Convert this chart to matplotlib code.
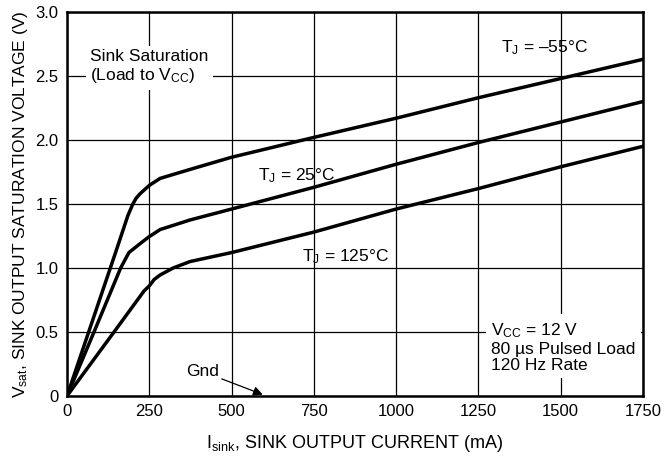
import matplotlib
matplotlib.use('Agg')
import matplotlib.pyplot as plt

plt.rcParams['font.family'] = ['Liberation Sans', 'DejaVu Sans']
plt.rcParams['mathtext.fontset'] = 'custom'
plt.rcParams['mathtext.rm'] = 'Liberation Sans'
plt.rcParams['mathtext.it'] = 'Liberation Sans'

# Sink current (mA) and saturation voltage (V)
i_m55 = [0, 100, 150, 185, 200, 210, 222, 250, 283, 374, 500, 750, 1000, 1250, 1500, 1750]
v_m55 = [0, 0.76, 1.14, 1.41, 1.50, 1.545, 1.58, 1.645, 1.70, 1.77, 1.865, 2.02, 2.17, 2.33, 2.48, 2.63]

i_25 = [0, 82, 163, 188, 205, 222, 250, 283, 374, 500, 750, 1000, 1250, 1500, 1750]
v_25 = [0, 0.50, 1.00, 1.12, 1.155, 1.19, 1.245, 1.30, 1.375, 1.46, 1.63, 1.81, 1.98, 2.14, 2.30]

i_125 = [0, 143, 234, 250, 265, 283, 323, 374, 500, 750, 1000, 1250, 1500, 1750]
v_125 = [0, 0.50, 0.82, 0.86, 0.91, 0.945, 1.00, 1.05, 1.12, 1.28, 1.46, 1.62, 1.79, 1.95]

x_ticks = [0, 250, 500, 750, 1000, 1250, 1500, 1750]
y_ticks = [0, 0.5, 1.0, 1.5, 2.0, 2.5, 3.0]
y_labels = ['0', '0.5', '1.0', '1.5', '2.0', '2.5', '3.0']

fig = plt.figure(figsize=(6.64, 4.63), dpi=100)
ax = fig.add_axes([0.101, 0.145, 0.867, 0.829])

for xs, ys in [(i_m55, v_m55), (i_25, v_25), (i_125, v_125)]:
    ax.plot(xs, ys, color='black', linewidth=2.5, solid_capstyle='round',
            solid_joinstyle='round', zorder=3)

ax.set_xlim(0, 1750)
ax.set_ylim(0, 3.0)
ax.set_xticks(x_ticks)
ax.set_yticks(y_ticks)
ax.set_yticklabels(y_labels)
ax.tick_params(length=0, labelsize=12, pad=6)
ax.grid(True, color='black', linewidth=0.9)
ax.set_axisbelow(True)
for s in ax.spines.values():
    s.set_linewidth(1.8)
    s.set_zorder(4)

ax.set_xlabel('I$_\\mathrm{sink}$, SINK OUTPUT CURRENT (mA)', fontsize=13, labelpad=10)
ax.set_ylabel('V$_\\mathrm{sat}$, SINK OUTPUT SATURATION VOLTAGE (V)', fontsize=12.5, labelpad=4)

box = dict(facecolor='white', edgecolor='none', pad=3)
ax.text(70, 2.57, 'Sink Saturation\n(Load to V$_\\mathrm{CC}$)', fontsize=12.5,
        ha='left', va='center', linespacing=1.2, bbox=box, zorder=2)
ax.text(1318, 2.72, 'T$_\\mathrm{J}$ = \u201355\u00b0C', fontsize=12.5, ha='left', va='center', zorder=5)
ax.text(580, 1.72, 'T$_\\mathrm{J}$ = 25\u00b0C', fontsize=12.5, ha='left', va='center', zorder=5)
ax.text(715, 1.09, 'T$_\\mathrm{J}$ = 125\u00b0C', fontsize=12.5, ha='left', va='center', zorder=5)
ax.text(1290, 0.38, 'V$_\\mathrm{CC}$ = 12 V\n80 \u00b5s Pulsed Load\n120 Hz Rate', fontsize=12.5,
        ha='left', va='center', linespacing=1.1,
        bbox=dict(facecolor='white', edgecolor='none', pad=4), zorder=2)

ax.annotate('Gnd', xy=(595, 0.01), xytext=(362, 0.19), fontsize=12.5,
            ha='left', va='center',
            arrowprops=dict(arrowstyle='-|>', color='black', lw=0.9,
                            shrinkA=0, shrinkB=0, mutation_scale=14),
            zorder=5)

fig.savefig('out.png', dpi=100)
